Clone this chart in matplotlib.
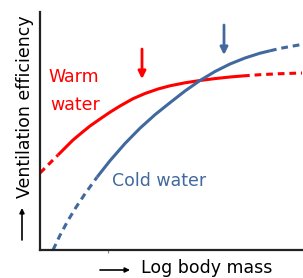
import matplotlib
matplotlib.use('Agg')
import matplotlib.pyplot as plt

# curves (arbitrary units: x = log body mass, y = efficiency)
warm_x = [0, 9, 18, 26, 33, 42, 50, 60, 70, 80, 93, 105, 118, 130, 145, 160, 175, 190, 203, 220, 240, 262]
warm_y = [77, 86, 95, 103, 110, 117.5, 124, 131, 137.8, 144, 151.3, 156.5, 161, 164.2, 167.2, 169.5,
          171.4, 173, 174.1, 175.3, 176.3, 177]
cold_x = [13, 20, 28, 36, 45, 57, 70, 85, 100, 115, 130, 145, 160, 175, 190, 205, 220, 230, 240, 262]
cold_y = [0, 14.7, 29.5, 42.7, 56.2, 72.8, 89.3, 106.5, 121.8, 135.3, 147.3, 159, 169.5, 178.5,
          186, 192, 196.8, 199.2, 201.6, 205.6]
# index where solid part starts / ends (outside of it the curve is dashed)
warm_solid = (2, 18)
cold_solid = (5, 17)
# arrows marking the optimum: x, y top, y bottom
warm_arrow = (102, 201, 171)
cold_arrow = (184, 225, 195)

red = '#ff0000'
blue = '#41699e'

fig = plt.figure(figsize=(3.03, 2.78), dpi=100)
ax = fig.add_axes([40/303, 28/278, 263/303, 238/278])
ax.set_xlim(0, 263)
ax.set_ylim(0, 238)

def draw(xs, ys, solid, c):
    a, b = solid
    ax.plot(xs[:a+1], ys[:a+1], color=c, lw=2.2, ls=(0, (2.2, 1.6)))
    ax.plot(xs[a:b+1], ys[a:b+1], color=c, lw=2.2, solid_capstyle='butt', solid_joinstyle='round')
    ax.plot(xs[b:], ys[b:], color=c, lw=2.2, ls=(0, (2.2, 1.6)))

draw(warm_x, warm_y, warm_solid, red)
draw(cold_x, cold_y, cold_solid, blue)

for (x, y0, y1), c in [(warm_arrow, red), (cold_arrow, blue)]:
    ax.annotate('', xy=(x, y1), xytext=(x, y0),
                arrowprops=dict(arrowstyle='-|>', color=c, lw=2, mutation_scale=11,
                                shrinkA=0, shrinkB=0))

ax.text(8, 173, 'Warm', color=red, fontsize=12.5, ha='left', va='center')
ax.text(10, 145, 'water', color=red, fontsize=12.5, ha='left', va='center')
ax.text(72, 69, 'Cold water', color=blue, fontsize=12.5, ha='left', va='center')

for s in ['top', 'right']:
    ax.spines[s].set_visible(False)
for s in ['left', 'bottom']:
    ax.spines[s].set_linewidth(1.6)
    ax.spines[s].set_color('#222222')
ax.set_xticks([68])
ax.set_xticklabels([''])
ax.tick_params(axis='x', length=2, width=0.8, color='#888888')
ax.set_yticks([])

# axis labels with arrows
fig.text(141/303, 1 - 268/278, 'Log body mass', fontsize=12.5, ha='left', va='center')
fig.text(25/303, 1 - 107/278, 'Ventilation efficiency', fontsize=12.5, rotation=90,
         ha='center', va='center')
ax.annotate('', xy=(130/303, 1 - 270/278), xytext=(100/303, 1 - 270/278),
            xycoords='figure fraction',
            arrowprops=dict(arrowstyle='-|>', color='black', lw=1.2, mutation_scale=7,
                            shrinkA=0, shrinkB=0))
ax.annotate('', xy=(22/303, 1 - 208/278), xytext=(22/303, 1 - 240/278),
            xycoords='figure fraction',
            arrowprops=dict(arrowstyle='-|>', color='black', lw=1.2, mutation_scale=7,
                            shrinkA=0, shrinkB=0))

fig.savefig('out.png', dpi=100)
